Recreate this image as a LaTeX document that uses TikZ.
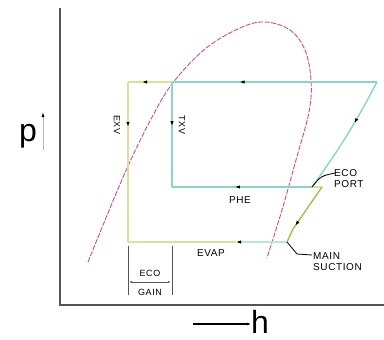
\documentclass[tikz,border=0pt]{standalone}
\usepackage{fontspec}
\setmainfont{Liberation Sans}
\newfontfamily\lblfont[LetterSpace=6]{Liberation Sans}
\usepackage{tikz}
\usetikzlibrary{arrows.meta,decorations.markings}

\definecolor{domered}{RGB}{205,80,130}
\definecolor{hiyellow}{RGB}{222,222,160}
\definecolor{ecocyan}{RGB}{140,210,205}
\definecolor{suctgreen}{RGB}{150,200,70}
\definecolor{axisgray}{RGB}{85,85,85}

\begin{document}
\begin{tikzpicture}[x=1pt, y=-1pt,
        axis/.style={draw=axisgray, line width=2pt},
        dome/.style={draw=domered, line width=0.9pt, dash pattern=on 5pt off 1.5pt},
        yline/.style={draw=hiyellow, line width=1.4pt},
        cline/.style={draw=ecocyan, line width=1.4pt},
        gline/.style={draw=suctgreen, line width=1.4pt},
        flowtip/.style={postaction={decorate}, decoration={markings,
            mark=at position #1 with {\arrow{Latex[length=5pt,width=3.5pt,color=black]}}}},
        lbl/.style={font=\lblfont\fontsize{10}{11}\selectfont, inner sep=0pt, align=left},
        big/.style={font=\fontsize{32}{32}\selectfont, inner sep=0pt}
    ]
    \useasboundingbox (0,0) rectangle (384,340);

    % AXES
    \draw[axis] (60,8) -- (60,305) -- (384,305);
    \node[big] (plbl) at (28,136) {p};
    \node[big] (hlbl) at (260,322) {h};
    \coordinate (parrS) at (43,150);
    \coordinate (parrE) at (43,112);
    \coordinate (harrS) at (193,324);
    \coordinate (harrE) at (251,324);
    \draw[gray!60, line width=0.8pt, -{Latex[length=5pt,width=3pt,color=black]}] (parrS) -- (parrE);
    \draw[black, line width=1.2pt, -{Latex[length=4pt,width=3pt]}] (harrS) -- (harrE);

    % SATURATION DOME
    \draw[dome] plot[smooth, tension=0.6] coordinates {(88,262) (108,213) (128,166) (150,121) (172,84)
        (205,49) (240,28) (265,22) (290,30) (305,50) (311,80) (309,112) (296,160) (282,210) (267,258)};

    % CYCLE POINTS
    \coordinate (hpL) at (128,82);
    \coordinate (hpM) at (172,82);
    \coordinate (disch) at (377,82);
    \coordinate (ecoP) at (312,187);
    \coordinate (ecoY) at (322,187);
    \coordinate (phL) at (172,187);
    \coordinate (evL) at (128,242);
    \coordinate (evM) at (236,242);
    \coordinate (suct) at (287,242);
    \coordinate (kink) at (293,229);

    % HIGH SIDE
    \draw[cline, flowtip=0.67] (disch) -- (hpM);
    \draw[yline, flowtip=0.68] (hpM) -- (hpL);
    \draw[cline, flowtip=0.38] (disch) to[bend left=4] (ecoP);

    % EXPANSION
    \draw[yline, flowtip=0.28] (hpL) -- (evL);
    \draw[cline, flowtip=0.42] (hpM) -- (phL);
    \node[lbl, rotate=-90, font=\lblfont\fontsize{9}{10}\selectfont] (exv) at (117,125) {EXV};
    \node[lbl, rotate=-90, font=\lblfont\fontsize{9}{10}\selectfont] (txv) at (182,125) {TXV};

    % ECONOMIZER
    \draw[cline, flowtip=0.55] (ecoP) -- (phL);
    \draw[yline] (ecoP) -- (ecoY);
    \node[lbl] (phe) at (240,200) {PHE};

    % EVAPORATOR
    \draw[yline] (evM) -- (evL);
    \draw[draw=ecocyan!60, line width=1.4pt, -{Latex[length=5pt,width=3.5pt,color=black]}] (suct) -- (evM);
    \node[lbl] (evap) at (211,253) {EVAP};

    % SUCTION
    \draw[gline, flowtip=0.72] (ecoY) -- (kink) -- (suct);

    % ECO PORT / MAIN SUCTION
    \coordinate (portL) at (335,173);
    \coordinate (suctL) at (312,255);
    \draw[black, line width=0.8pt] (ecoP) .. controls (321,176) .. (portL);
    \draw[black, line width=0.8pt] (suct) -- (297,254) -- (suctL);
    \node[lbl, anchor=west] (port) at (334,179) {ECO\\PORT};
    \node[lbl, anchor=west] (msuct) at (313,262) {MAIN\\SUCTION};

    % ECO GAIN
    \coordinate (gainL) at (128,246);
    \coordinate (gainR) at (172,246);
    \draw[axisgray, line width=0.9pt] (gainL) -- ++(0,49);
    \draw[axisgray, line width=0.9pt] (gainR) -- ++(0,49);
    \draw[axisgray, line width=0.6pt, {Latex[length=3pt,width=2pt]}-{Latex[length=3pt,width=2pt]}] (129,282) -- (171,282);
    \node[lbl, font=\lblfont\fontsize{9}{10}\selectfont] (eco) at (150,273) {ECO};
    \node[lbl, font=\lblfont\fontsize{9}{10}\selectfont] (gain) at (150,292) {GAIN};
\end{tikzpicture}
\end{document}
